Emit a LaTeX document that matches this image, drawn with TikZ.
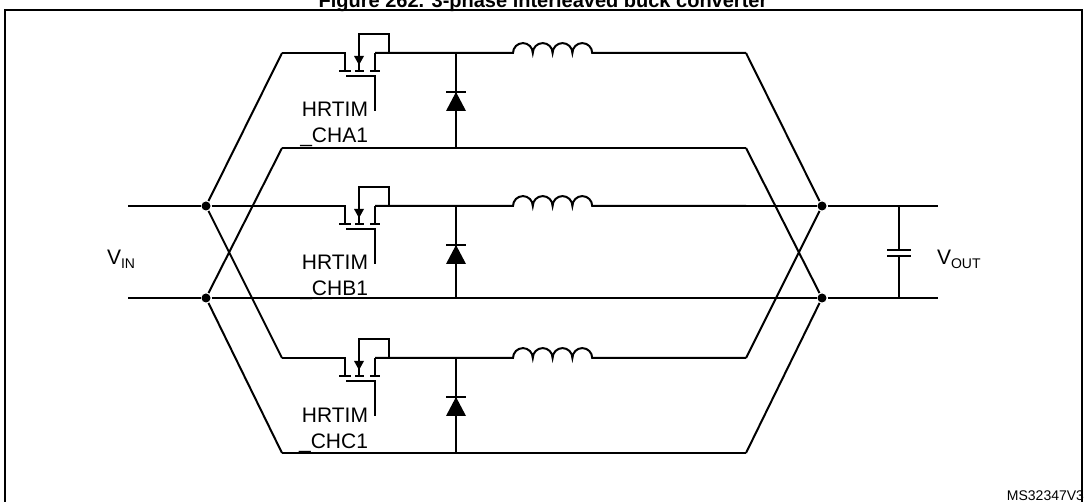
\documentclass[tikz,border=0pt]{standalone}
\usepackage{fontspec}
\setmainfont{Liberation Sans}
\begin{document}
\begin{tikzpicture}[x=1pt,y=-1pt,line width=2pt,
  dot/.style={circle,fill=black,inner sep=0pt,minimum size=9pt},
  txt/.style={font=\fontsize{21}{24}\selectfont,inner sep=0pt},
  lbl/.style={txt,anchor=base east}]

\useasboundingbox (0,0) rectangle (1087,502);
\clip (0,0) rectangle (1087,502);

% Frame and title
\draw[line width=1.5pt] (5,10) rectangle (1082,520);
\node[font=\bfseries\fontsize{20}{22}\selectfont,anchor=base,inner sep=0pt] (title) at (543,8) {Figure 262. 3-phase interleaved buck converter};

% Input and output nodes
\node[dot] (inT) at (206,206) {};
\node[dot] (inB) at (206,298) {};
\node[dot] (outT) at (822,206) {};
\node[dot] (outB) at (822,298) {};
\coordinate (vinT) at (128,206);
\coordinate (vinB) at (128,298);
\coordinate (voutT) at (938,206);
\coordinate (voutB) at (938,298);
\draw (vinT) -- (inT);
\draw (vinB) -- (inB);
\draw (outT) -- (voutT);
\draw (outB) -- (voutB);
\node[txt,anchor=base west] (vin) at (106,265) {V\textsubscript{\fontsize{14}{16}\selectfont IN}};
\node[txt,anchor=base west] (vout) at (936,265) {V\textsubscript{\fontsize{14}{16}\selectfont OUT}};

% Output capacitor
\coordinate (cT) at (899,206);
\coordinate (cB) at (899,298);
\draw (cT) -- (899,250) (899,256) -- (cB);
\draw (887,250) -- (911,250) (887,256) -- (911,256);

% Phases: name / top rail / bottom rail
\foreach \ph/\yt/\yb in {A/53/148,B/206/298,C/358/453}{
  \coordinate (\ph tl) at (282,\yt);
  \coordinate (\ph bl) at (282,\yb);
  \coordinate (\ph tr) at (746,\yt);
  \coordinate (\ph br) at (746,\yb);
  % MOSFET
  \draw (\ph tl) -- (345,\yt) -- (345,\yt+18);
  \draw (339,\yt+18) -- (351,\yt+18) (355,\yt+18) -- (364,\yt+18) (370,\yt+18) -- (380,\yt+18);
  \draw (359,\yt+18) -- (359,\yt-19) -- (389,\yt-19) -- (389,\yt);
  \fill (354,\yt+3) -- (364,\yt+3) -- (359,\yt+12) -- cycle;
  \draw (375,\yt+18) -- (375,\yt);
  \draw (346,\yt+23) -- (375,\yt+23) -- (375,\yt+58);
  \node[lbl] (g\ph a) at (369,\yt+64) {HRTIM};
  \node[lbl] (g\ph b) at (369,\yt+90) {\_CH\ph1};
  % Diode
  \coordinate (d\ph) at (456,\yt);
  \draw (d\ph) -- (456,\yb);
  \fill (446,\yt+58) -- (466,\yt+58) -- (456,\yt+39) -- cycle;
  \draw (446,\yt+39) -- (466,\yt+39);
  % Inductor
  \draw (375,\yt) -- (513,\yt)
    arc (180:360:9.9) arc (180:360:9.9) arc (180:360:9.9) arc (180:360:9.9)
    -- (\ph tr);
  \draw (\ph bl) -- (\ph br);
}
% Links to the input and output nodes
\draw (inT) -- (Atl) (inT) -- (Ctl) (inB) -- (Abl) (inB) -- (Cbl);
\draw (outT) -- (Atr) (outT) -- (Ctr) (outB) -- (Abr) (outB) -- (Cbr);
\draw (inT) -- (Btl) (inB) -- (Bbl) (outT) -- (Btr) (outB) -- (Bbr);

\node[font=\fontsize{14}{16}\selectfont,anchor=base east,inner sep=0pt] (ref) at (1085,500) {MS32347V3};
\end{tikzpicture}
\end{document}
